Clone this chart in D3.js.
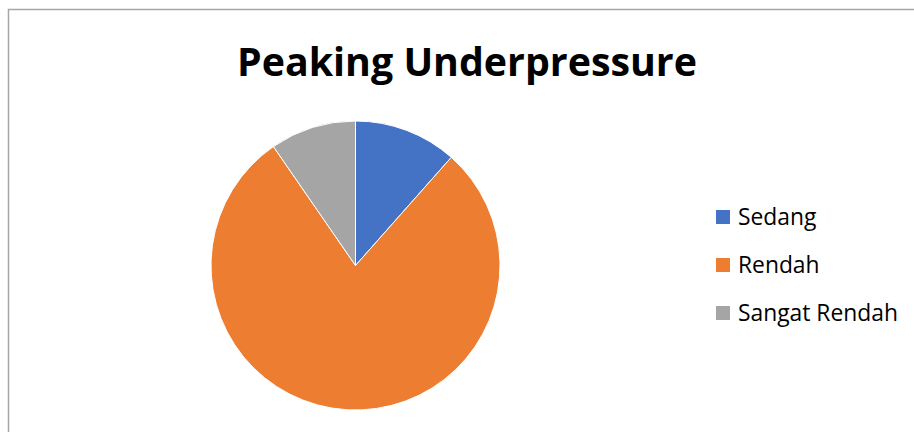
<!DOCTYPE html>
<html>
<head>
<meta charset="utf-8">
<script src="https://cdn.jsdelivr.net/npm/d3@7/dist/d3.min.js"></script>
<style>
  html, body { margin: 0; padding: 0; background: #fff; }
  svg { display: block; }
</style>
</head>
<body>
<svg id="chart" width="914" height="432"></svg>
<script>
// Pie data
const categories = ["Sedang", "Rendah", "Sangat Rendah"];
const values = [6, 41, 5];
const colors = ["#4472C4", "#ED7D31", "#A5A5A5"];
const titleText = "Peaking Underpressure";

const svg = d3.select("#chart");
const W = 914, H = 432;

// chart area frame (left and top edges visible)
svg.append("rect")
  .attr("x", 8.5).attr("y", 9.5)
  .attr("width", W + 10).attr("height", H + 10)
  .attr("fill", "#fff")
  .attr("stroke", "#a6a6a6")
  .attr("stroke-width", 1.5);

// title, scaled to a fixed width
const title = svg.append("text")
  .attr("x", 467).attr("y", 76)
  .attr("text-anchor", "middle")
  .attr("font-family", "'Open Sans', sans-serif")
  .attr("font-weight", "bold")
  .attr("font-size", 40)
  .attr("fill", "#000")
  .text(titleText);
const tw = title.node().getComputedTextLength();
title.attr("font-size", 40 * 460 / tw);

// pie
const cx = 355.5, cy = 265.5, r = 144.5;
const pie = d3.pie().sort(null).value(d => d.v);
const arc = d3.arc().innerRadius(0).outerRadius(r);
const data = categories.map((c, i) => ({ c, v: values[i], col: colors[i] }));

svg.append("g")
  .attr("transform", `translate(${cx},${cy})`)
  .selectAll("path")
  .data(pie(data))
  .join("path")
  .attr("d", arc)
  .attr("fill", d => d.data.col)
  .attr("stroke", "#fff")
  .attr("stroke-width", 1);

// legend
const legendY = d3.scalePoint().domain(categories).range([217, 313]);
const lg = svg.append("g");
const items = lg.selectAll("g").data(data).join("g")
  .attr("transform", d => `translate(716,${legendY(d.c)})`);
items.append("rect")
  .attr("x", 0).attr("y", -7)
  .attr("width", 14).attr("height", 14)
  .attr("fill", d => d.col);
const labels = items.append("text")
  .attr("x", 22).attr("y", 0)
  .attr("dy", "0.36em")
  .attr("font-family", "'Open Sans', sans-serif")
  .attr("font-size", 20)
  .attr("fill", "#000")
  .text(d => d.c);
// fit longest label width
const lw = labels.filter(d => d.c === "Sangat Rendah").node().getComputedTextLength();
labels.attr("font-size", 20 * 160 / lw);
</script>
</body>
</html>
